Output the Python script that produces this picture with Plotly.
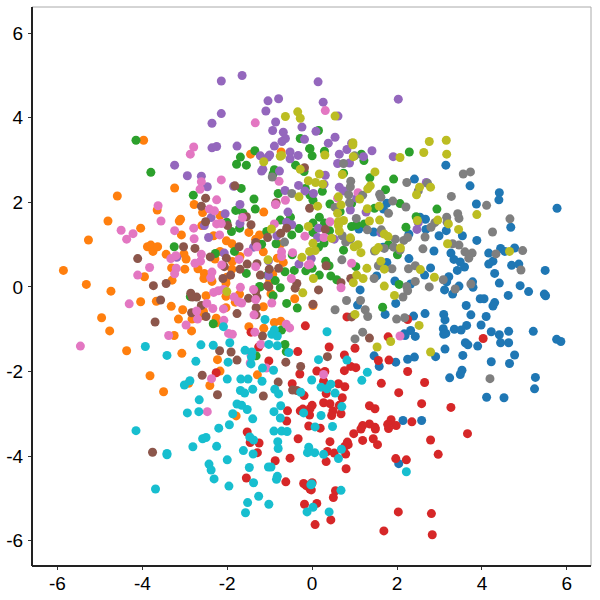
import plotly.graph_objects as go

tick_values = [-6, -4, -2, 0, 2, 4, 6]
tick_labels = ["-6", "-4", "-2", "0", "2", "4", "6"]

blue = [(3.15,2.88),(2.41,2.55),(3.72,2.39),(4.41,2.23),(4.40,2.06),(3.87,1.96),(5.77,1.86),(1.68,1.84),(1.76,1.98),(2.54,1.65),(2.67,1.60),(4.68,1.41),(1.10,1.37),(1.45,1.30),(2.68,1.36),(3.16,1.33),(2.28,1.25),(3.54,1.21),(2.99,1.21),(3.88,1.10),(1.67,0.94),(2.87,0.85),(4.44,0.91),(4.54,0.84),(4.77,0.92),(3.27,0.80),(4.16,0.80),(3.34,0.65),(2.28,0.67),(3.49,0.59),(4.26,0.61),(4.16,0.54),(4.70,0.51),(4.87,0.54),(1.76,0.58),(3.59,0.47),(2.79,0.45),(3.42,0.39),(5.49,0.39),(2.65,0.28),(4.30,0.32),(1.52,0.26),(3.22,0.24),(3.17,0.12),(1.95,0.14),(2.32,0.07),(3.78,0.12),(4.41,0.09),(4.90,0.03),(3.46,0.02),(3.79,-0.01),(1.13,-0.07),(3.12,-0.07),(5.10,-0.11),(3.31,-0.17),(4.62,-0.20),(5.47,-0.17),(5.50,-0.21),(3.96,-0.28),(4.05,-0.28),(4.30,-0.37),(4.26,-0.45),(3.63,-0.44),(1.97,-0.39),(1.07,-0.43),(1.72,-0.65),(2.66,-0.63),(3.10,-0.65),(3.74,-0.66),(4.10,-0.70),(2.39,-0.69),(3.13,-0.78),(3.98,-0.90),(3.64,-0.91),(3.09,-0.99),(3.35,-1.00),(3.51,-1.02),(3.10,-1.12),(3.15,-1.10),(2.32,-1.03),(2.17,-1.11),(2.19,-1.15),(2.43,-1.17),(4.22,-1.06),(4.63,-1.05),(5.21,-1.05),(4.41,-1.13),(5.76,-1.24),(5.86,-1.29),(4.44,-1.32),(4.63,-1.32),(3.61,-1.32),(3.67,-1.37),(3.90,-1.40),(3.13,-1.47),(1.46,-1.63),(2.91,-1.65),(3.55,-1.62),(4.77,-1.61),(2.25,-1.71),(2.41,-1.66),(1.97,-1.78),(4.22,-1.77),(4.65,-1.81),(1.58,-1.88),(3.53,-1.97),(3.49,-2.07),(3.24,-2.15),(5.26,-2.14),(5.24,-2.41),(4.11,-2.61),(4.52,-2.62),(2.14,-3.16),(2.58,-3.16),(2.04,-4.18)]

orange = [(-3.97,3.47),(-3.24,2.34),(-4.59,2.15),(-2.78,1.95),(-3.65,1.82),(-2.58,1.76),(-4.81,1.56),(-3.10,1.60),(-3.13,1.56),(-4.04,1.39),(-2.60,1.45),(-2.17,1.69),(-1.14,1.77),(-5.27,1.11),(-3.08,1.23),(-2.32,1.21),(-1.49,1.29),(-1.24,1.23),(-1.33,1.13),(-2.02,1.09),(-1.89,1.02),(-3.88,0.95),(-3.80,0.99),(-3.75,0.84),(-3.64,0.95),(-3.44,0.77),(-3.02,0.78),(-2.97,0.66),(-1.15,0.83),(-2.17,0.84),(-2.29,0.66),(-1.70,0.72),(-1.88,0.60),(-5.86,0.39),(-3.31,0.45),(-3.00,0.42),(-2.69,0.43),(-1.89,0.42),(-2.54,0.32),(-2.55,0.20),(-3.95,0.24),(-3.30,0.16),(-2.36,0.13),(-2.01,0.23),(-2.03,0.09),(-5.32,0.06),(-4.74,-0.10),(-0.73,3.19),(-1.45,3.14),(-0.68,0.58),(-0.82,0.68),(-0.93,0.30),(-1.00,0.14),(-0.75,1.01),(-4.04,-0.35),(-3.67,-0.34),(-3.32,-0.46),(-3.05,-0.54),(-2.50,-0.21),(-2.03,-0.22),(-1.71,-0.17),(-1.81,-0.36),(-2.03,-0.49),(-1.15,-0.47),(-0.97,-0.16),(-0.41,-0.28),(-4.96,-0.73),(-4.77,-1.04),(-3.15,-0.76),(-2.83,-0.76),(-2.56,-0.58),(-2.57,-0.68),(-2.26,-0.74),(-2.26,-0.85),(-2.84,-1.04),(-3.25,-1.15),(-1.49,-0.94),(-1.14,-0.98),(-0.89,-0.84),(-0.74,-0.81),(-4.37,-1.51),(-3.07,-1.57),(-2.23,-1.72),(-2.17,-1.99),(-3.82,-2.10),(-3.50,-2.48),(-2.41,-2.33),(-1.29,-2.08),(-2.91,-2.28),(-1.79,-3.05),(0.02,-0.44)]

green = [(-4.15,3.47),(-3.80,2.71),(-2.80,2.17),(-1.35,3.22),(-1.69,3.07),(-1.78,2.90),(-1.55,2.88),(-1.67,2.33),(-0.28,3.51),(-0.06,3.27),(-0.39,2.88),(-0.19,2.73),(-0.89,2.77),(-0.92,2.67),(-0.80,2.21),(-1.37,2.08),(-1.34,1.84),(-1.80,1.81),(-1.63,1.75),(-2.01,1.53),(-1.71,1.39),(-1.90,1.31),(-0.75,1.58),(-0.51,1.65),(-1.07,1.31),(-0.31,1.38),(-0.48,1.23),(-1.19,1.01),(-0.85,1.02),(-3.25,0.95),(-2.28,0.79),(-1.83,0.84),(-0.47,0.76),(-1.55,0.32),(-1.05,0.28),(-0.64,0.36),(-0.42,0.39),(-0.15,0.38),(-0.87,0.15),(-1.24,0.01),(-0.75,-0.02),(-0.16,2.33),(-0.05,2.17),(0.15,3.70),(-0.05,3.27),(0.0,3.10),(0.29,3.21),(1.16,3.14),(1.22,2.99),(2.29,3.19),(0.74,2.69),(1.36,2.58),(1.92,2.55),(0.24,2.26),(1.73,2.30),(0.02,2.05),(0.42,1.96),(1.47,1.86),(2.07,1.97),(2.94,1.84),(0.17,1.65),(0.66,1.78),(0.93,1.97),(2.45,1.66),(0.02,1.51),(0.29,1.51),(0.93,1.43),(1.05,1.47),(1.23,1.49),(2.21,1.41),(0.41,1.33),(0.02,1.29),(0.28,1.04),(0.15,0.94),(0.74,0.87),(1.80,1.00),(2.01,0.76),(0.32,0.61),(0.40,0.50),(0.0,0.44),(1.03,0.48),(0.17,0.28),(0.44,0.26),(0.58,0.17),(2.05,0.06),(-2.87,-0.23),(-2.33,-0.87),(-0.60,-0.39),(-0.35,-0.50),(-0.92,-0.21),(-1.22,0.0),(-0.72,-1.02),(-0.64,-1.36),(-0.61,-1.53),(-1.32,-1.63),(1.66,-0.48)]

red = [(-0.16,-0.92),(-1.44,-1.07),(-1.26,-1.42),(-0.34,-1.53),(-1.02,-1.75),(-2.26,-2.03),(-0.29,-2.06),(-0.47,-2.29),(-0.19,-2.57),(-0.28,-2.93),(-0.22,-2.89),(-0.05,-2.88),(-0.06,-3.03),(-0.58,-2.93),(-0.60,-3.17),(-0.08,-3.29),(-1.53,-3.43),(-1.46,-3.68),(-1.25,-3.69),(-0.33,-3.59),(-1.29,-3.92),(-0.52,-4.05),(-0.87,-4.11),(-1.55,-4.52),(-0.62,-4.61),(-0.20,-4.65),(-0.14,-4.70),(-0.05,-4.78),(-0.18,-5.14),(0.82,-0.71),(2.25,-0.77),(1.79,-1.18),(4.03,-1.22),(0.40,-1.42),(1.01,-1.45),(0.76,-1.61),(1.56,-1.74),(1.81,-1.73),(0.91,-1.88),(1.03,-1.91),(0.76,-1.98),(0.11,-1.99),(0.30,-2.0),(2.25,-2.0),(0.27,-2.23),(0.62,-2.29),(0.77,-2.36),(1.63,-2.28),(2.65,-2.26),(2.04,-2.50),(0.33,-2.52),(0.71,-2.62),(0.27,-2.74),(0.42,-2.76),(0.64,-2.80),(0.0,-2.80),(2.58,-2.76),(1.35,-2.81),(1.48,-2.88),(3.27,-2.85),(0.49,-2.93),(0.46,-3.04),(0.68,-3.0),(1.86,-3.14),(2.35,-3.19),(1.98,-3.28),(1.78,-3.25),(1.80,-3.35),(1.35,-3.24),(1.19,-3.28),(1.15,-3.36),(1.48,-3.32),(1.49,-3.36),(0.19,-3.34),(0.98,-3.47),(3.66,-3.47),(0.42,-3.66),(1.19,-3.63),(1.44,-3.59),(2.79,-3.62),(0.83,-3.67),(0.85,-3.73),(0.77,-3.77),(1.54,-3.73),(0.36,-3.89),(0.52,-3.93),(0.79,-3.95),(2.97,-3.96),(0.33,-4.13),(1.97,-4.06),(2.22,-4.09),(0.80,-4.30),(0.0,-4.63),(-0.02,-4.80),(0.55,-4.82),(0.50,-4.98),(0.11,-5.12),(2.03,-5.32),(2.81,-5.36),(0.44,-5.51),(0.07,-5.62),(1.69,-5.77),(2.83,-5.86)]

purple = [(-1.65,5.0),(-2.14,4.87),(-0.79,4.45),(-1.04,4.40),(-1.09,4.16),(-2.14,4.10),(-2.36,3.87),(-0.86,3.90),(-0.93,3.70),(-0.24,3.78),(-0.68,3.66),(-0.63,3.51),(-0.71,3.44),(-0.18,3.49),(-2.36,3.29),(-2.25,3.32),(-1.77,3.33),(-0.89,3.33),(-1.22,3.10),(-1.04,3.07),(-1.00,3.12),(-0.52,3.19),(-0.52,3.03),(-0.33,3.11),(-3.24,2.88),(-2.94,2.63),(-2.61,2.62),(-2.47,2.37),(-1.19,2.74),(-1.16,2.78),(-0.77,2.74),(-1.85,2.38),(-0.32,2.40),(-0.64,2.28),(-0.17,2.27),(-1.70,1.95),(-0.86,1.96),(-2.05,1.73),(-2.38,1.64),(-0.57,1.77),(-1.70,1.50),(-0.60,1.53),(-0.48,1.47),(-2.54,1.45),(-0.83,1.21),(-2.44,1.17),(-1.38,0.94),(-2.07,0.80),(-3.19,0.70),(-1.03,0.62),(-0.31,0.54),(-1.03,0.27),(0.14,4.85),(2.03,4.44),(0.26,4.37),(0.61,4.04),(0.09,3.68),(0.54,3.54),(0.38,3.40),(0.93,3.40),(1.41,3.22),(0.82,3.25),(0.64,3.14),(1.91,3.08),(1.21,3.08),(0.60,2.92),(0.88,2.93),(0.31,2.64),(0.28,2.43),(2.69,2.47),(0.64,2.36),(0.74,2.27),(0.03,2.21),(1.05,2.10),(0.90,1.82),(1.27,1.77),(2.50,1.52),(2.47,1.36),(1.62,1.28),(0.15,1.39),(0.13,1.17),(0.52,1.13),(-0.02,0.67)]

brown = [(-0.18,2.82),(-1.82,2.39),(-2.51,2.10),(-2.61,1.91),(-0.85,1.99),(-0.06,1.86),(-1.55,1.66),(-2.51,1.54),(-1.99,1.45),(-1.44,1.47),(-0.60,1.39),(-0.74,1.27),(-1.05,1.17),(-1.33,1.05),(-1.72,0.95),(-3.03,0.95),(-2.76,0.91),(-4.11,0.67),(-2.40,0.71),(-2.02,0.68),(-2.07,0.48),(-1.53,0.54),(-1.30,0.55),(-1.70,0.42),(-1.01,0.42),(-0.79,0.44),(-1.22,0.28),(-1.92,0.28),(-2.10,0.20),(-0.36,0.08),(-3.74,0.03),(-3.44,0.08),(-1.05,0.03),(-0.40,-0.03),(-2.86,-0.15),(-2.82,-0.24),(-2.72,-0.24),(-3.57,-0.31),(-2.61,-0.44),(-2.84,-0.61),(-2.50,-0.70),(-3.70,-0.83),(-1.77,-0.63),(-1.50,-0.27),(-1.33,-0.11),(-1.30,-0.24),(-1.32,-0.49),(-1.32,-0.66),(-1.02,0.0),(-1.17,-1.16),(-2.18,-1.51),(-1.91,-1.54),(-1.77,-1.73),(-0.62,-1.78),(-0.27,-1.88),(-2.59,-2.09),(-0.80,-2.25),(-0.46,-2.44),(-0.36,-2.45),(-1.15,-2.58),(-2.23,-2.55),(-3.76,-3.91),(0.02,-0.41),(0.15,-0.07),(0.93,-0.71),(1.35,-1.21),(0.36,-1.65),(0.31,1.36),(0.33,0.50),(0.68,0.10),(0.91,0.20)]

pink = [(-1.34,3.88),(-2.79,3.31),(-2.87,3.14),(-2.61,2.49),(-2.64,2.31),(-2.14,2.53),(-0.78,2.50),(-0.63,2.05),(-0.86,1.95),(-3.63,1.92),(-3.56,1.56),(-2.25,2.06),(-2.42,1.84),(-2.30,1.80),(-2.25,1.49),(-2.14,1.50),(-1.64,1.64),(-4.50,1.34),(-4.22,1.26),(-4.37,1.13),(-3.24,1.33),(-2.79,1.39),(-2.78,1.14),(-2.18,1.23),(-0.89,1.49),(-0.17,1.20),(-1.30,0.95),(-1.51,0.82),(-2.61,0.77),(-3.33,0.67),(-3.21,0.74),(-2.63,0.61),(-2.76,0.56),(-1.72,0.65),(-0.72,0.83),(-0.72,0.72),(-0.46,0.81),(-3.83,0.46),(-3.20,0.44),(-3.24,0.31),(-4.11,0.28),(-2.36,0.35),(-2.39,0.22),(-2.13,0.52),(-1.33,0.48),(-1.69,-0.01),(-0.49,0.20),(-0.09,0.52),(-4.31,-0.40),(-5.46,-1.40),(-3.38,-1.15),(-2.97,-0.90),(-2.72,-0.57),(-2.70,-0.76),(-2.48,-0.39),(-2.34,-0.51),(-2.09,-0.52),(-2.32,-0.13),(-2.21,-0.09),(-2.09,-0.06),(-1.84,-0.24),(-1.74,-0.35),(-1.66,-0.38),(-2.08,-0.79),(-1.97,-1.10),(-1.88,-1.12),(-1.37,-0.66),(-1.35,-1.07),(-1.21,-1.36),(-0.95,-0.38),(-0.61,-0.88),(-0.53,-0.97),(-1.33,-0.30),(-1.38,-0.06),(-1.44,-1.62),(-1.46,-1.80),(-1.08,-1.92),(-2.37,-2.17),(-2.47,-2.95),(0.31,4.17),(1.08,2.23),(0.60,2.10),(0.42,1.54),(0.28,1.17),(0.93,0.56),(0.68,-0.02),(-0.05,0.54),(2.07,-1.16),(0.27,-2.07)]

gray = [(3.56,2.67),(3.73,2.72),(2.23,2.47),(0.91,2.50),(0.90,2.37),(2.72,2.45),(2.50,2.27),(3.28,2.14),(0.74,2.92),(1.00,3.10),(0.86,2.18),(1.19,2.17),(1.59,2.19),(1.62,2.12),(4.11,1.93),(0.88,1.99),(1.90,2.03),(2.21,1.89),(0.54,1.88),(1.80,1.74),(3.43,1.73),(3.46,1.62),(3.17,1.65),(3.18,1.53),(4.66,1.61),(1.04,1.62),(2.89,1.52),(2.80,1.41),(1.63,1.35),(1.30,1.35),(4.25,1.30),(2.66,1.18),(0.71,1.21),(0.90,1.13),(0.79,1.06),(2.25,1.17),(2.16,1.10),(1.96,1.13),(1.92,0.94),(3.31,1.02),(3.46,0.99),(1.70,0.91),(1.47,0.85),(2.61,0.90),(2.07,0.87),(3.60,0.83),(3.77,0.80),(3.69,0.68),(4.33,0.78),(4.96,0.86),(0.70,0.64),(2.43,0.50),(2.27,0.43),(1.56,0.50),(1.88,0.43),(4.92,0.40),(1.46,0.20),(3.09,0.17),(2.43,0.13),(3.74,0.07),(2.23,0.01),(2.76,0.0),(3.37,-0.05),(-0.48,2.21),(-0.94,2.60),(-0.65,1.06),(0.81,-0.32),(1.14,-0.32),(0.54,-0.54),(1.25,-0.54),(1.31,-0.70),(2.14,-0.24),(2.25,-0.09),(1.99,-0.76),(2.18,-0.73),(1.01,-1.23),(1.19,-1.07),(4.19,-2.17)]

olive = [(-0.63,4.03),(-0.34,4.14),(-0.28,3.99),(-0.75,3.09),(-0.72,3.11),(-1.14,2.96),(-0.28,2.78),(-0.09,2.51),(-0.31,2.13),(-0.96,1.37),(-0.09,1.43),(-0.24,0.70),(-0.06,0.84),(-1.04,0.64),(0.54,4.04),(0.96,3.41),(0.96,3.36),(0.30,3.12),(2.76,3.44),(3.16,3.47),(2.63,3.18),(3.17,3.14),(2.07,3.06),(0.97,3.08),(1.48,2.72),(0.71,2.66),(0.17,2.67),(0.08,2.47),(0.25,2.43),(1.37,2.39),(1.31,2.32),(2.53,2.36),(2.79,2.36),(2.46,2.18),(1.12,2.08),(0.62,2.13),(0.68,1.94),(0.13,1.91),(1.30,1.85),(1.58,1.91),(0.60,1.74),(3.88,1.71),(2.48,1.57),(2.96,1.58),(3.21,1.49),(1.35,1.56),(1.59,1.58),(0.62,1.54),(0.74,1.57),(0.62,1.45),(0.64,1.32),(3.45,1.36),(1.70,1.25),(1.79,1.19),(0.46,1.15),(0.90,1.16),(0.02,1.03),(1.08,1.00),(0.99,0.95),(3.19,1.02),(1.56,0.93),(1.50,0.87),(2.08,0.92),(4.65,0.84),(0.07,0.86),(1.15,0.81),(1.62,0.61),(1.70,0.42),(1.29,0.44),(2.55,0.41),(2.88,0.23),(1.05,0.28),(1.20,0.20),(0.97,0.10),(0.03,0.20),(1.70,0.02),(1.01,-0.65),(1.94,-0.20),(2.52,-0.91),(1.85,-1.29),(1.53,-1.42),(2.79,-1.54),(-2.01,-0.11),(-0.22,-0.14)]

cyan = [(-1.11,-0.77),(-2.09,-0.94),(-0.89,-1.02),(-0.95,-1.12),(-0.82,-1.16),(-3.93,-1.41),(-3.42,-1.62),(-2.62,-1.37),(-2.33,-1.38),(-1.94,-1.32),(-1.02,-1.36),(-0.82,-1.39),(-1.58,-1.50),(-1.42,-1.54),(-1.43,-1.66),(-1.44,-1.82),(-0.55,-1.55),(-2.74,-1.76),(-1.98,-1.78),(-1.17,-1.92),(-0.91,-1.97),(-1.68,-2.18),(-1.51,-2.18),(-2.00,-2.18),(-1.18,-2.23),(-2.88,-2.22),(-3.01,-2.32),(-1.69,-2.45),(-1.59,-2.51),(-1.40,-2.42),(-0.88,-2.42),(-0.79,-2.53),(-0.27,-2.49),(-2.66,-2.67),(-1.77,-2.77),(-1.66,-2.80),(-1.53,-2.90),(-0.74,-2.81),(-0.90,-2.95),(-2.94,-2.98),(-2.67,-2.95),(-1.87,-3.0),(-1.40,-3.12),(-0.75,-3.10),(-0.20,-2.98),(-1.95,-3.26),(-4.15,-3.40),(-2.20,-3.34),(-0.90,-3.41),(-0.72,-3.41),(-0.59,-3.42),(-2.58,-3.59),(-2.50,-3.56),(-1.47,-3.55),(-1.38,-3.62),(-0.81,-3.66),(-2.81,-3.78),(-2.25,-3.77),(-0.80,-3.82),(-1.62,-3.87),(-1.39,-3.95),(-3.42,-3.97),(-3.42,-3.94),(-0.08,-3.79),(-0.11,-3.92),(-2.00,-4.09),(-2.43,-4.19),(-2.38,-4.33),(-1.48,-4.27),(-1.03,-4.26),(-0.97,-4.26),(-2.31,-4.54),(-0.82,-4.48),(-0.84,-4.55),(-1.38,-4.63),(-1.96,-4.71),(-3.69,-4.78),(-0.03,-4.68),(-1.26,-4.95),(-1.52,-5.10),(-1.02,-5.14),(-1.57,-5.34),(-0.12,-5.32),(-0.01,-2.20),(0.35,-1.06),(0.15,-1.72),(0.82,-1.73),(1.30,-2.02),(1.17,-2.21),(0.44,-2.30),(0.21,-2.37),(0.35,-2.41),(0.54,-2.51),(0.70,-2.83),(0.21,-3.04),(0.48,-3.30),(0.07,-3.31),(0.69,-3.84),(0.06,-3.92),(0.27,-3.96),(0.62,-4.06),(2.22,-4.37),(-0.01,-4.66),(0.68,-4.81),(0.02,-5.21),(0.40,-5.32)]

series = [
    ("blue", blue, "#1f77b4"), ("orange", orange, "#ff7f0e"), ("green", green, "#2ca02c"),
    ("red", red, "#d62728"), ("purple", purple, "#9467bd"), ("brown", brown, "#8c564b"),
    ("pink", pink, "#e377c2"), ("gray", gray, "#7f7f7f"), ("olive", olive, "#bcbd22"),
    ("cyan", cyan, "#17becf"),
]

fig = go.Figure()
for name, pts, color in series:
    fig.add_trace(go.Scatter(
        x=[p[0] for p in pts], y=[p[1] for p in pts], mode="markers", name=name,
        marker=dict(color=color, size=9, line=dict(width=0)), showlegend=False,
    ))

axis_common = dict(
    tickmode="array", tickvals=tick_values, ticktext=tick_labels,
    ticks="outside", ticklen=3, tickwidth=1, tickcolor="#333333",
    showgrid=False, zeroline=False, showline=False, automargin=False,
    tickfont=dict(family="Liberation Sans, Arial, sans-serif", size=19, color="#000000"),
)
fig.update_xaxes(range=[-6.6, 6.57], ticklabelstandoff=-3, **axis_common)
fig.update_yaxes(range=[-6.6, 6.62], ticklabelstandoff=1, **axis_common)

fig.update_layout(
    width=600, height=600, autosize=False,
    margin=dict(l=32, r=9, t=7, b=34),
    paper_bgcolor="white", plot_bgcolor="white",
    shapes=[
        dict(type="line", xref="paper", yref="paper", x0=0, x1=1, y0=1, y1=1, line=dict(color="#aaaaaa", width=1)),
        dict(type="line", xref="paper", yref="paper", x0=1, x1=1, y0=0, y1=1, line=dict(color="#aaaaaa", width=1)),
        dict(type="line", xref="paper", yref="paper", x0=0, x1=0, y0=0, y1=1, line=dict(color="#222222", width=2)),
        dict(type="line", xref="paper", yref="paper", x0=0, x1=1, y0=0, y1=0, line=dict(color="#222222", width=2)),
    ],
)

fig.write_html("out.html", config={"displayModeBar": False}, post_script="document.body.style.margin='0';")
